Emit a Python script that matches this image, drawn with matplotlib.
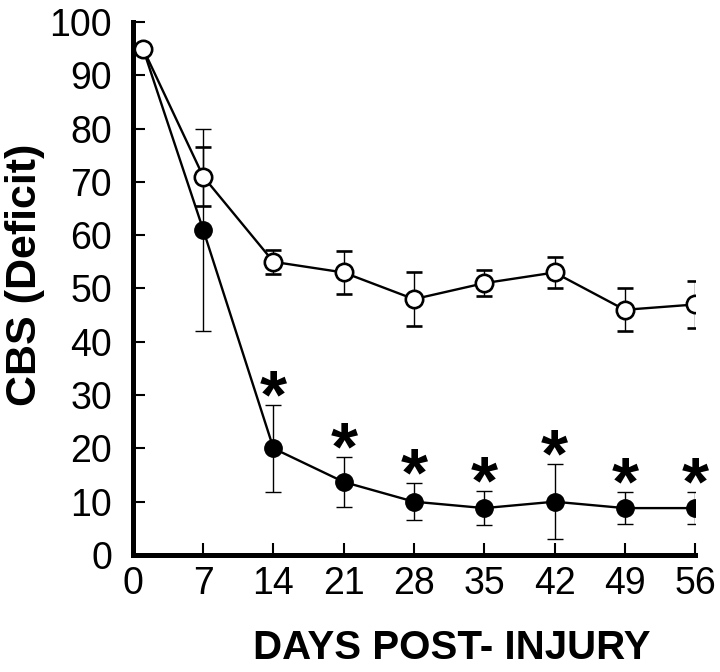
import matplotlib
matplotlib.use("Agg")
import matplotlib.pyplot as plt

plt.rcParams['font.family'] = ['Liberation Sans', 'DejaVu Sans']

days = [1, 7, 14, 21, 28, 35, 42, 49, 56]

openMean = [95, 71, 55, 53, 48, 51, 53, 46, 47]
openErr = [0, 5.5, 2.2, 4, 5, 2.5, 3, 4, 4.4]

filledMean = [95, 61, 20, 13.7, 10, 8.8, 10, 8.8, 8.8]
filledErr = [0, 19, 8.2, 4.7, 3.5, 3.2, 7, 3, 3]

starDays = [14, 21, 28, 35, 42, 49, 56]

xticks = [0, 7, 14, 21, 28, 35, 42, 49, 56]
yticks = [0, 10, 20, 30, 40, 50, 60, 70, 80, 90, 100]

fig = plt.figure(figsize=(7.2, 6.72), dpi=100)
ax = fig.add_axes([0.1847, 0.1741, 0.7806, 0.7932])

ax.errorbar(days, filledMean, yerr=filledErr, color='black', marker='o',
            markersize=12.5, markerfacecolor='black', markeredgecolor='black',
            linewidth=1.7, elinewidth=1, capsize=6, capthick=1, zorder=3)
ax.errorbar(days, openMean, yerr=openErr, color='black', marker='o',
            markersize=12.5, markerfacecolor='white', markeredgecolor='black',
            markeredgewidth=1.9, linewidth=1.7, elinewidth=1, capsize=6,
            capthick=1, zorder=4)

# asterisks just above the upper error caps
for d in starDays:
    i = days.index(d)
    ax.annotate('*', (d, filledMean[i] + filledErr[i]), xytext=(0, -9),
                textcoords='offset points', ha='center', va='baseline',
                fontsize=50, fontweight='bold')

ax.set_xlim(0, 56)
ax.set_ylim(0, 100)
ax.set_xticks(xticks)
ax.set_yticks(yticks)
ax.tick_params(direction='in', length=8.5, width=1.5, labelsize=27)
ax.tick_params(axis='x', pad=8)
ax.tick_params(axis='y', pad=15)

for s in ['top', 'right']:
    ax.spines[s].set_visible(False)
for s in ['left', 'bottom']:
    ax.spines[s].set_linewidth(3.6)

fig.text(25 / 720, 1 - 275 / 672, 'CBS (Deficit)', rotation=90, ha='center',
         va='center', fontsize=31, fontweight='bold')
fig.text(452 / 720, 1 - 648 / 672, 'DAYS POST- INJURY', ha='center',
         va='center', fontsize=29, fontweight='bold')

fig.savefig('out.png', dpi=100)
